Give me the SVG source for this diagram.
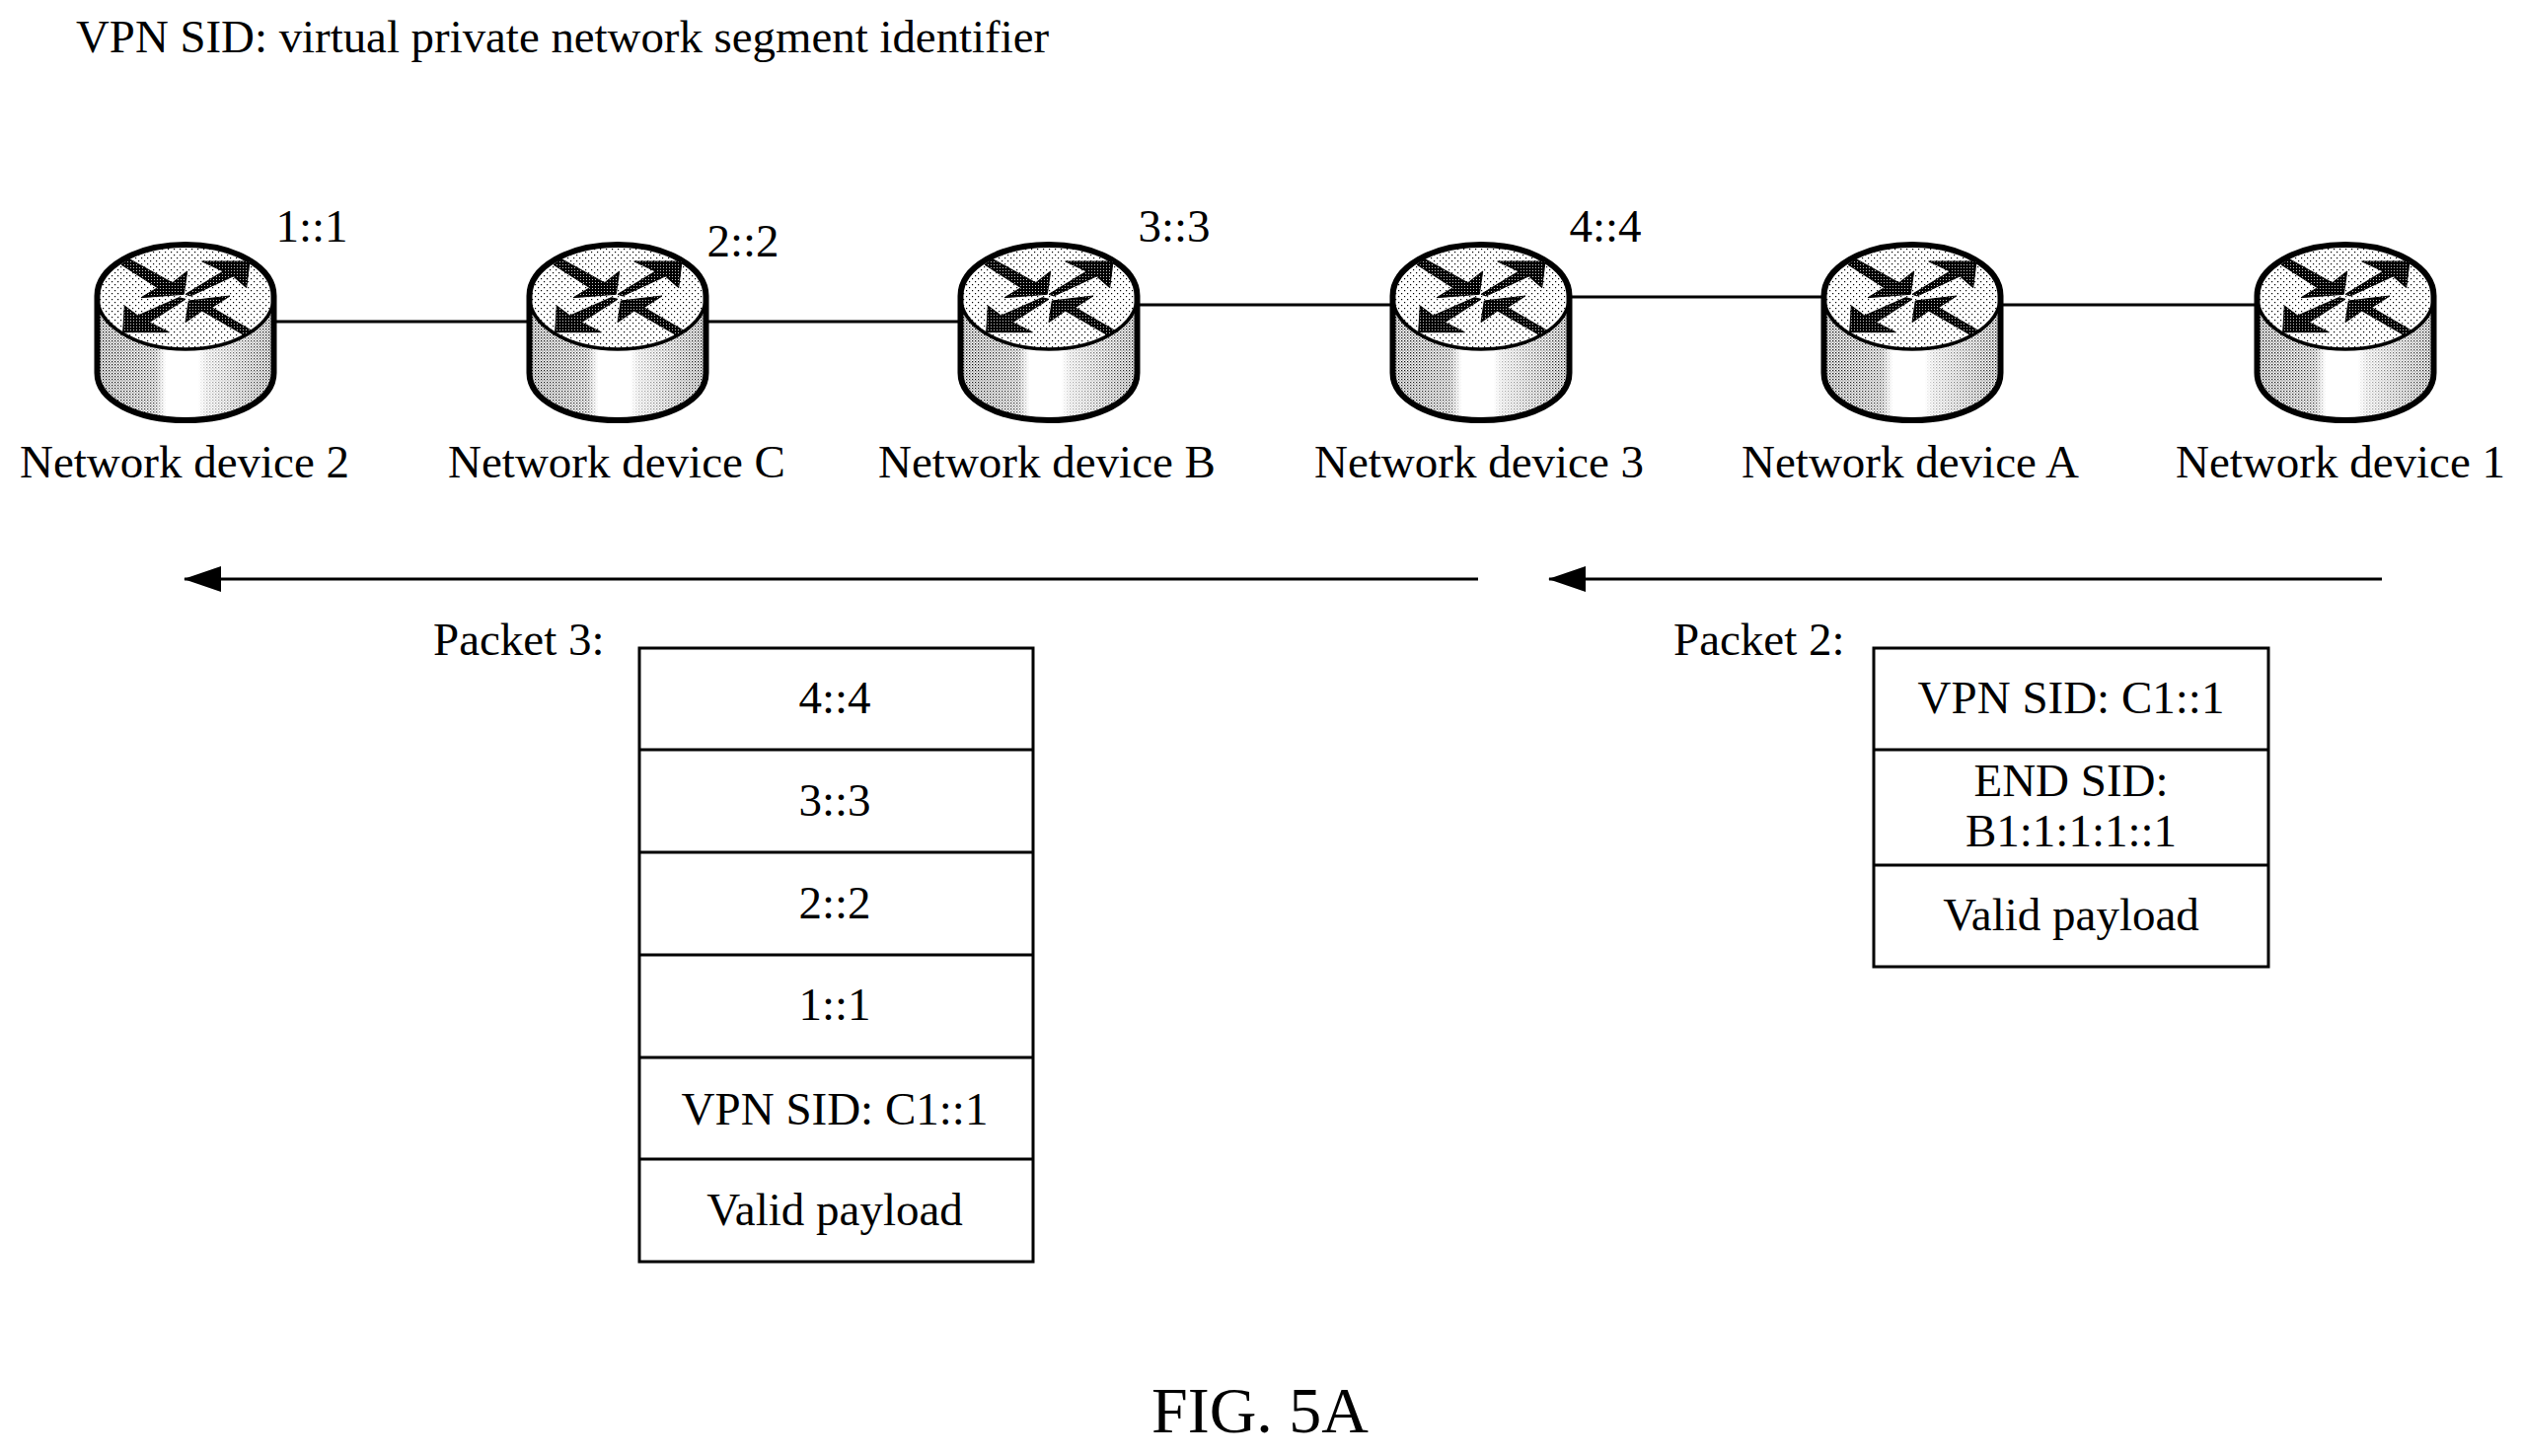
<svg xmlns="http://www.w3.org/2000/svg" width="2556" height="1476" viewBox="0 0 2556 1476">
<style>
text{font-family:"Liberation Serif","Times New Roman",serif;font-size:47px;fill:#000}
.m{text-anchor:middle}
.box{fill:#fff;stroke:#000;stroke-width:3}
.ln{stroke:#000;stroke-width:3;fill:none}
.ar{fill:url(#dark);stroke:#000;stroke-width:1}
</style>
<defs>
<pattern id="sparse" width="6" height="6" patternUnits="userSpaceOnUse"><rect width="6" height="6" fill="#fff"/><rect x="0" y="0" width="1.2" height="1.2" fill="#000"/><rect x="3" y="3" width="1.2" height="1.2" fill="#000"/></pattern>
<pattern id="dense" width="3" height="3" patternUnits="userSpaceOnUse"><rect width="3" height="3" fill="#fff"/><rect x="0" y="0" width="1.3" height="1.3" fill="#000"/><rect x="1.5" y="1.5" width="1" height="1" fill="#000"/></pattern>
<pattern id="dark" width="3" height="3" patternUnits="userSpaceOnUse"><rect width="3" height="3" fill="#000"/><rect x="1" y="1" width="1" height="1" fill="#ccc"/></pattern>
<linearGradient id="sideFade" gradientUnits="userSpaceOnUse" x1="-90" x2="90" y1="0" y2="0">
<stop offset="0" stop-color="#fff" stop-opacity="0"/>
<stop offset="0.33" stop-color="#fff" stop-opacity="0.25"/>
<stop offset="0.39" stop-color="#fff" stop-opacity="1"/>
<stop offset="0.57" stop-color="#fff" stop-opacity="1"/>
<stop offset="0.62" stop-color="#fff" stop-opacity="0.7"/>
<stop offset="0.78" stop-color="#fff" stop-opacity="0.4"/>
<stop offset="1" stop-color="#fff" stop-opacity="0"/>
</linearGradient>
<marker id="ah" markerUnits="userSpaceOnUse" markerWidth="38" markerHeight="26" refX="37" refY="13" orient="auto"><path d="M0 0L38 13L0 26Z" fill="#000"/></marker>
<g id="router">
<path d="M-89.5 0V78C-89.5 106-50 126 0 126S89.5 106 89.5 78V0Z" fill="url(#dense)"/>
<path d="M-89.5 0V78C-89.5 106-50 126 0 126S89.5 106 89.5 78V0Z" fill="url(#sideFade)"/>
<ellipse cx="0" cy="0" rx="89" ry="54" fill="url(#sparse)"/>
<path d="M-89.5 0V78C-89.5 106-50 126 0 126S89.5 106 89.5 78V0C89.5-29 50-52 0-52S-89.5-29-89.5 0Z" fill="none" stroke="#000" stroke-width="6"/>
<path d="M-89.5 0C-89.5 30-50 54 0 54S89.5 30 89.5 0" fill="none" stroke="#000" stroke-width="3.5"/>
<path class="ar" d="M-65-31.7L-56.7-37.3L-13.3-13.3L1.7-25L-1.7-1.7L-45 1.7L-28.3-8.3Z"/>
<path class="ar" d="M0-1.7L38.3-25L16.7-35L65-35L61.7-8.3L48.3-20L5 0Z"/>
<path class="ar" d="M0 3.3L-36.7 26.7L-16.7 36.7L-63.3 36.7L-61.7 10L-48.3 20L-6.7 1.7Z"/>
<path class="ar" d="M0 26.7L3.3 5L45 0L26.7 11.7L66.7 35L60 40L16.7 15Z"/>
</g>
</defs>
<text x="77" y="53" style="font-size:46.85px">VPN SID: virtual private network segment identifier</text>
<g id="connectors">
<line class="ln" x1="280" y1="326" x2="534" y2="326"/>
<line class="ln" x1="718" y1="326" x2="971" y2="326"/>
<line class="ln" x1="1155" y1="309" x2="1409" y2="309"/>
<line class="ln" x1="1593" y1="301" x2="1846" y2="301"/>
<line class="ln" x1="2030" y1="309" x2="2285" y2="309"/>
<line class="ln" x1="1498" y1="587" x2="187" y2="587" marker-end="url(#ah)"/>
<line class="ln" x1="2414" y1="587" x2="1570" y2="587" marker-end="url(#ah)"/>
</g>
<g id="network-device-2"><use href="#router" x="188" y="300"/><text class="m" x="187" y="484">Network device 2</text><text class="m" x="316" y="245">1::1</text></g>
<g id="network-device-c"><use href="#router" x="626" y="300"/><text class="m" x="625" y="484">Network device C</text><text class="m" x="753" y="260">2::2</text></g>
<g id="network-device-b"><use href="#router" x="1063" y="300"/><text class="m" x="1061" y="484">Network device B</text><text class="m" x="1190" y="245">3::3</text></g>
<g id="network-device-3"><use href="#router" x="1501" y="300"/><text class="m" x="1499" y="484">Network device 3</text><text class="m" x="1627" y="245">4::4</text></g>
<g id="network-device-a"><use href="#router" x="1938" y="300"/><text class="m" x="1936" y="484">Network device A</text></g>
<g id="network-device-1"><use href="#router" x="2377" y="300"/><text class="m" x="2372" y="484">Network device 1</text></g>
<g id="packet-3">
<text x="439" y="664">Packet 3:</text>
<rect class="box" x="648" y="657" width="399" height="622"/>
<path class="ln" d="M648 760H1047M648 864H1047M648 968H1047M648 1072H1047M648 1175H1047"/>
<text class="m" x="846" y="723">4::4</text>
<text class="m" x="846" y="827">3::3</text>
<text class="m" x="846" y="931">2::2</text>
<text class="m" x="846" y="1034">1::1</text>
<text class="m" x="846" y="1140">VPN SID: C1::1</text>
<text class="m" x="846" y="1242">Valid payload</text>
</g>
<g id="packet-2">
<text x="1696" y="664">Packet 2:</text>
<rect class="box" x="1899" y="657" width="400" height="323"/>
<path class="ln" d="M1899 760H2299M1899 877H2299"/>
<text class="m" x="2099" y="723">VPN SID: C1::1</text>
<text class="m" x="2099" y="807">END SID:</text>
<text class="m" x="2099" y="858">B1:1:1:1::1</text>
<text class="m" x="2099" y="943">Valid payload</text>
</g>
<text class="m" x="1277" y="1452" style="font-size:66px">FIG. 5A</text>
</svg>
